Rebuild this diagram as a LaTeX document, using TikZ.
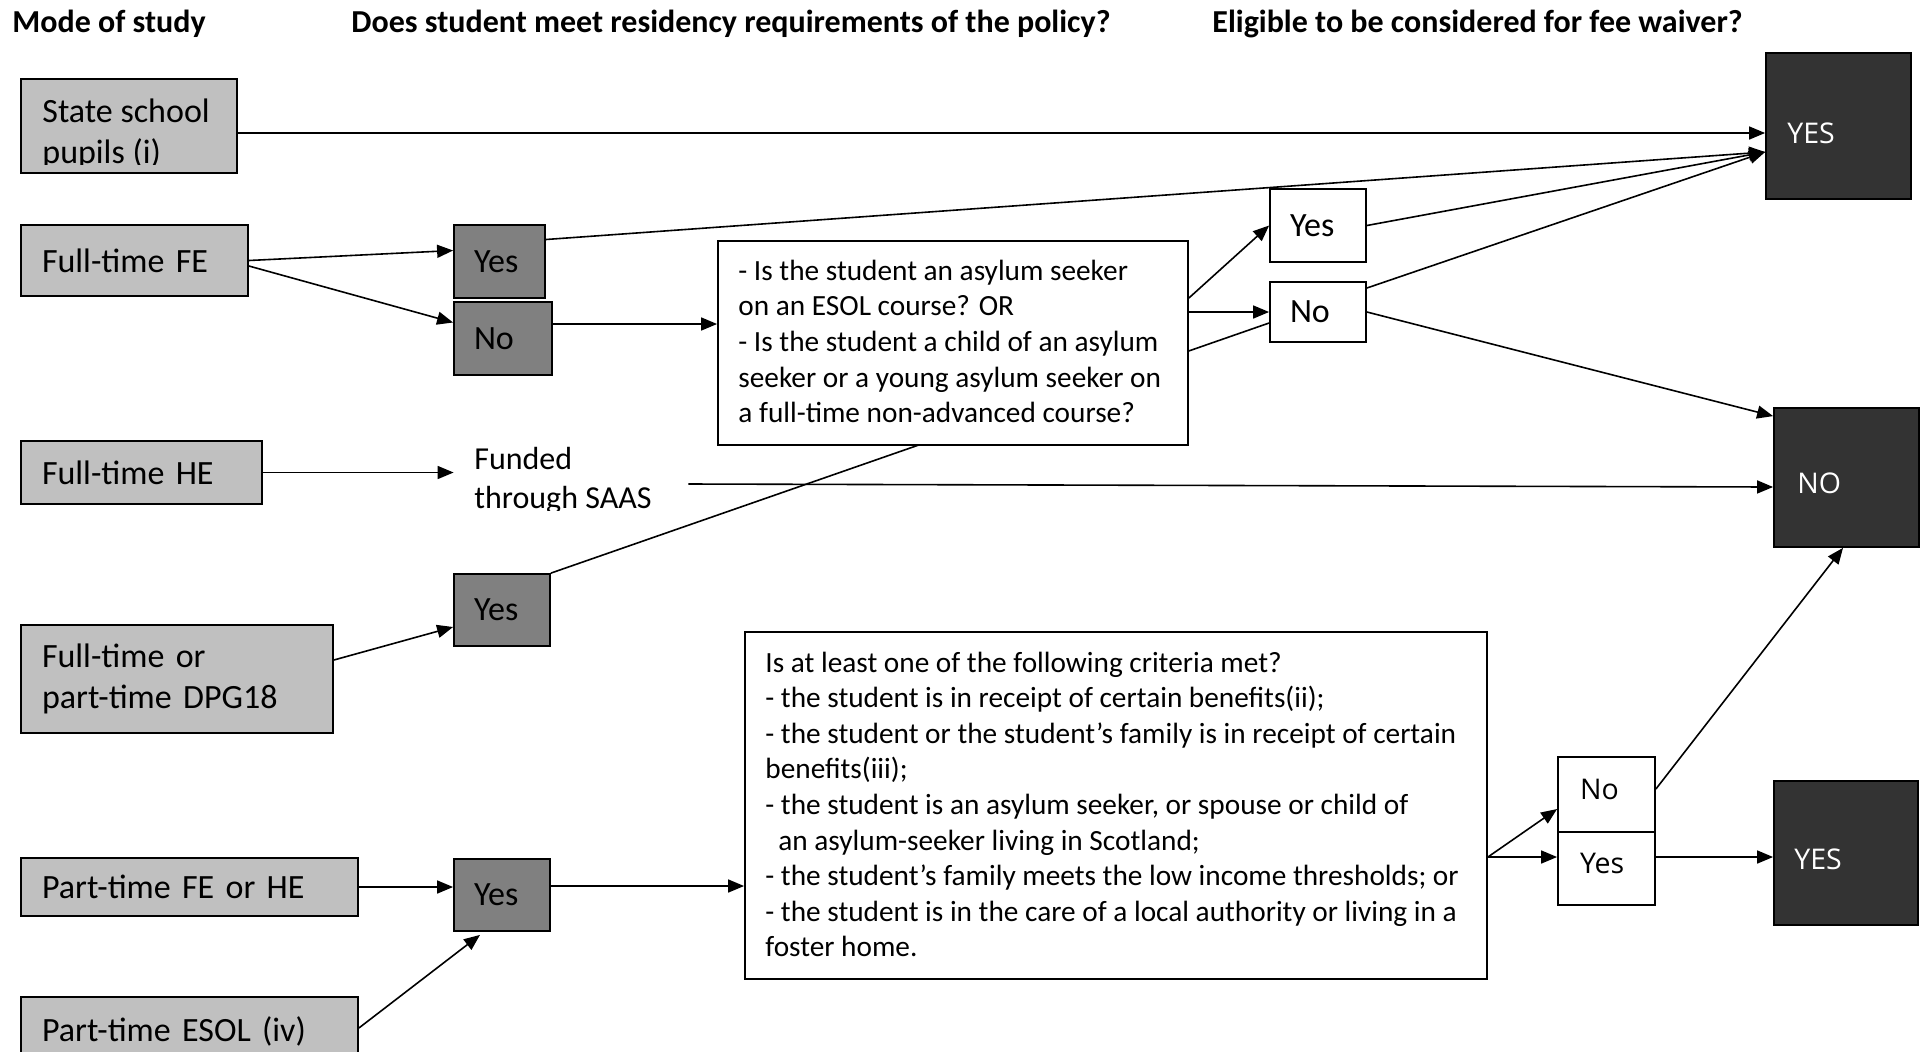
\documentclass[tikz,border=0pt]{standalone}
\usepackage{fontspec}
\setmainfont{Carlito}
\newfontfamily\osans{Open Sans}
\usetikzlibrary{arrows.meta,calc}
\definecolor{lgray}{HTML}{C0C0C0}
\definecolor{mgray}{HTML}{808080}
\definecolor{dgray}{HTML}{333333}
\pgfdeclarelayer{bg}
\pgfdeclarelayer{background}
\pgfsetlayers{bg,background,main}
\begin{document}
\begin{tikzpicture}[x=0.5pt,y=-0.5pt,
  conn/.style={line width=0.8pt},
  arr/.style={conn,-{Triangle[length=8pt,width=6.5pt]}},
  lbox/.style={draw,line width=0.9pt,fill=lgray,inner xsep=10.5pt,inner ysep=0pt,align=left,font=\fontsize{17pt}{20.5pt}\selectfont},
  gbox/.style={draw,line width=0.9pt,fill=mgray,inner xsep=10pt,inner ysep=0pt,align=left,font=\fontsize{17pt}{20.5pt}\selectfont},
  wbox/.style={draw,line width=0.9pt,fill=white,inner xsep=10pt,inner ysep=0pt,align=left,font=\fontsize{17pt}{20.5pt}\selectfont},
  obox/.style={draw,line width=0.9pt,fill=white,inner xsep=11pt,inner ysep=0pt,text width=26.5pt,text depth=5.5pt,align=left,font=\osans\fontsize{14.25pt}{17pt}\selectfont},
  dbox/.style={draw,line width=0.9pt,fill=dgray,inner sep=0pt},
  dtext/.style={text=white,font=\osans\fontsize{14.25pt}{17pt}\selectfont,inner sep=0pt,anchor=west},
  qtext/.style={font=\fontsize{14.65pt}{17.8pt}\selectfont,align=left,inner sep=0pt,anchor=west},
  ltext/.style={font=\fontsize{17pt}{20.5pt}\selectfont,inner sep=0pt,anchor=base west},
  ftext/.style={font=\fontsize{16pt}{19pt}\selectfont,inner sep=0pt,anchor=base west},
  head/.style={font=\bfseries\fontsize{16pt}{19pt}\selectfont,anchor=base west,inner sep=0pt}
  ]
\begin{pgfonlayer}{bg}
\fill[white] (0,0) rectangle (1928,1051);
\end{pgfonlayer}
\useasboundingbox (0,0) rectangle (1928,1051);

% headings
\node[head] (h1) at (12,32) {Mode of study};
\node[head] (h2) at (351,32) {Does student meet residency requirements of the policy?};
\node[head] (h3) at (1212,32) {Eligible to be considered for fee waiver?};

% left column
\node[lbox, minimum width=108pt, minimum height=47pt] (ss) at (129,126) {};
\begin{scope}
\clip (21,79) rectangle (237,164);
\node[ltext] (ssT1) at (42,122) {State school};
\node[ltext] (ssT2) at (42,163) {pupils (i)};
\end{scope}
\node[lbox, text width=92.5pt, minimum height=35.5pt] (fe) at (134.5,260.5) {Full-time FE};
\node[lbox, text width=99.5pt, minimum height=31.5pt] (he) at (141.5,472.5) {Full-time HE};
\node[lbox, text width=135pt, minimum height=54pt] (dpg) at (177,679) {Full-time or\\part-time DPG18};
\node[lbox, text width=147.5pt, minimum height=29pt] (pfe) at (189.5,887) {Part-time FE or HE};
\node[lbox, text width=147.5pt, minimum height=34pt] (esol) at (189.5,1031) {Part-time ESOL (iv)};

% residency answers
\node[gbox, text width=25.5pt, minimum height=36.5pt] (yes1) at (499.5,261.5) {Yes};
\node[gbox, text width=29pt, minimum height=36.5pt] (no1) at (503,338.5) {No};
\node[gbox, text width=28pt, minimum height=36pt] (yes2) at (502,610) {Yes};
\node[gbox, text width=28pt, minimum height=36pt] (yes3) at (502,895) {Yes};

\node[minimum width=117pt, minimum height=35pt, inner sep=0pt] (funded) at (571,475) {};
\begin{scope}
\clip (454,430) rectangle (688,510);
\node[ftext] (fT1) at (474,469) {Funded};
\node[ftext] (fT2) at (474,508) {through SAAS};
\end{scope}

% asylum question
\node[wbox, minimum width=235pt, minimum height=102pt] (asy) at (953,343) {};
\node[qtext] (asyT) at (738,341.5) {- Is the student an asylum seeker\\on an ESOL course? OR\\- Is the student a child of an asylum\\seeker or a young asylum seeker on\\a full-time non-advanced course?};
\node[wbox, text width=28pt, minimum height=36.5pt] (yes4) at (1318,225.5) {Yes};
\node[wbox, text width=28pt, minimum height=30pt] (no4) at (1318,312) {No};

% outcomes
\node[dbox, minimum width=72.5pt, minimum height=73pt] (yesA) at (1838.5,126) {};
\node[dtext] (yesAT) at (1787,133) {YES};
\node[dbox, minimum width=72.5pt, minimum height=69.5pt] (noB) at (1846.5,477.5) {};
\node[dtext] (noBT) at (1797,483) {NO};
\node[dbox, minimum width=72pt, minimum height=72pt] (yesB) at (1846,853) {};
\node[dtext] (yesBT) at (1794,859) {YES};

% criteria
\node[wbox, minimum width=371pt, minimum height=173.5pt] (crit) at (1116,805.5) {};
\node[qtext] (critT) at (765,804.5) {Is at least one of the following criteria met?\\- the student is in receipt of certain benefits(ii);\\- the student or the student’s family is in receipt of certain\\benefits(iii);\\- the student is an asylum seeker, or spouse or child of\\\hspace*{6.5pt}an asylum-seeker living in Scotland;\\- the student’s family meets the low income thresholds; or\\- the student is in the care of a local authority or living in a\\foster home.};
\node[obox, minimum height=37.5pt] (no5) at (1606.5,794.5) {No};
\node[obox, minimum height=36.5pt] (yes5) at (1606.5,868.5) {Yes};

% connectors
\coordinate (yin) at ([yshift=-13pt]yesA.west);
\coordinate (cout) at ([yshift=-25.75pt]crit.east);
\begin{pgfonlayer}{background}
\draw[conn] (yes2.north east) -- ([yshift=-5.5pt]no4.west);
\end{pgfonlayer}
\draw[arr] ([yshift=-3.5pt]ss.east) -- ([yshift=-3.5pt]yesA.west);
\draw[arr] (fe.east) -- ([yshift=5.5pt]yes1.west);
\draw[arr] ([yshift=-2.75pt]fe.east) -- ([yshift=8pt]no1.west);
\draw[arr] ([yshift=7.25pt]no1.east) -- ([yshift=7.25pt]no1.east -| asy.west);
\draw[arr] ([yshift=11pt]yes1.east) -- (yin);
\draw[arr] (he.east) -- (he.east -| funded.west);
\draw[arr] ([yshift=-4.5pt]funded.east) -- ([yshift=-4.75pt]noB.west);
\draw[arr] ([yshift=9.5pt]dpg.east) -- ([yshift=-8.5pt]yes2.west);
\draw[arr] ([yshift=22.5pt]asy.east) -- (yes4.west);
\draw[arr] (asy.east |- no4.west) -- (no4.west);
\draw[arr] (yes4.east) -- (yin);
\draw[arr] ([yshift=12pt]no4.east) -- (yin);
\draw[arr] (no4.east) -- ([yshift=-4.5pt]noB.north west);
\draw[arr] (pfe.east) -- (pfe.east -| yes3.west);
\draw[arr] ([yshift=1.5pt]esol.east) -- ([xshift=-11pt,yshift=-1.5pt]yes3.south);
\draw[arr] ([yshift=4.5pt]yes3.east) -- ([yshift=4.5pt]yes3.east -| crit.west);
\draw[arr] (cout) -- ([yshift=-7.25pt]no5.west);
\draw[arr] (cout) -- (cout -| yes5.west);
\draw[arr] ([yshift=5.75pt]yes5.east) -- ([yshift=5.75pt]yes5.east -| yesB.west);
\draw[arr] ([yshift=2.75pt]no5.east) -- ([xshift=-1.75pt]noB.south);
\end{tikzpicture}
\end{document}
